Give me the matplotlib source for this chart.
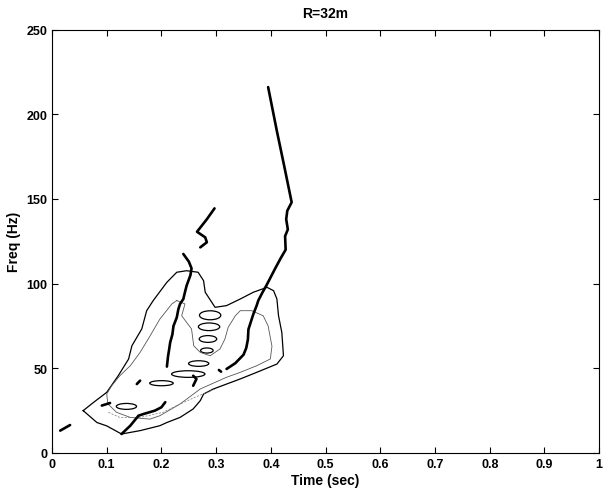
import numpy as np
import matplotlib.pyplot as plt
from matplotlib.patches import Ellipse

plt.rcParams['font.family'] = ['Liberation Sans', 'DejaVu Sans']

# ridge tracks (time sec, freq Hz)
ridge_right_t = [0.395, 0.411, 0.424, 0.438, 0.430, 0.428, 0.431, 0.426, 0.427, 0.418,
                 0.408, 0.392, 0.385, 0.377, 0.374, 0.368, 0.364, 0.359, 0.358, 0.355,
                 0.350, 0.335, 0.319]
ridge_right_f = [216, 190, 170, 148, 143, 138, 132, 128, 120, 115,
                 109, 99, 95, 90, 87, 82, 78, 73, 67, 62,
                 58, 53, 49.6]

ridge_left_t = [0.240, 0.250, 0.255, 0.253, 0.246, 0.243, 0.240, 0.234, 0.231, 0.228,
                0.222, 0.220, 0.216, 0.214, 0.212, 0.210]
ridge_left_f = [117.5, 113, 109, 105, 98.8, 95, 90.9, 88, 85, 80,
                75, 70, 65.3, 61, 57, 51]

ridge_top_t = [0.297, 0.283, 0.265, 0.280, 0.283, 0.271]
ridge_top_f = [144.4, 138, 130.6, 127.3, 124.4, 121.4]

ridge_low_t = [0.127, 0.143, 0.158, 0.167, 0.188, 0.200, 0.207]
ridge_low_f = [11.2, 16.1, 22, 23, 25, 27, 30]

# short broken ridge pieces
frag_t = [[0.015, 0.033], [0.091, 0.106], [0.155, 0.161], [0.258, 0.264, 0.258],
          [0.305, 0.309]]
frag_f = [[13.2, 16.5], [28, 29.5], [40.7, 42.7], [45.6, 43.7, 39.7],
          [49, 48]]

# outer contour
outer_t = [0.057, 0.076, 0.100, 0.121, 0.140, 0.146, 0.164, 0.173, 0.185, 0.210,
           0.228, 0.246, 0.267, 0.277, 0.280, 0.298, 0.319, 0.344, 0.368, 0.393,
           0.405, 0.411, 0.414, 0.420, 0.423, 0.411, 0.374, 0.344, 0.319, 0.295,
           0.277, 0.271, 0.258, 0.234, 0.210, 0.197, 0.161, 0.127, 0.100, 0.082, 0.057]
outer_f = [25, 29.9, 35.8, 45.6, 55.5, 63.3, 73.2, 84, 90, 100.8,
           106.7, 107.6, 106.7, 101.7, 94.9, 86, 87, 90.9, 94.9, 97.8,
           95.8, 90.9, 81, 71.2, 57.4, 52.5, 47.6, 43.7, 40.7, 37.8,
           34.8, 30.9, 26, 21, 18, 16.1, 13.2, 11.2, 16, 18, 25]

# inner contour
inner_t = [0.228, 0.243, 0.237, 0.255, 0.259, 0.271, 0.289, 0.307, 0.316, 0.322,
           0.335, 0.344, 0.365, 0.386, 0.395, 0.402, 0.399, 0.374, 0.344, 0.319,
           0.271, 0.234, 0.197, 0.179, 0.143, 0.118, 0.102, 0.100, 0.109, 0.124,
           0.143, 0.161, 0.179, 0.197, 0.219, 0.228]
inner_f = [90, 88, 81, 73.2, 63.3, 59.4, 57.4, 61.4, 67.3, 74.2,
           81, 84, 84, 81, 75, 63, 55.5, 51.5, 47.6, 44.7,
           37.8, 28.9, 22, 20, 21, 24, 29, 34.8, 39.7, 45.6,
           51.5, 59.4, 69, 79, 88, 90]

# faint third-level contour in the lower band
low_t = [0.103, 0.124, 0.161, 0.203, 0.228, 0.262, 0.300]
low_f = [24, 21, 21, 24, 28, 33, 38]

# small closed contours: centre t, centre f, width (sec), height (Hz)
ell_t = [0.289, 0.287, 0.285, 0.283, 0.268, 0.249, 0.200, 0.136]
ell_f = [81.3, 74.5, 67.3, 60.5, 52.8, 46.6, 41.2, 27.5]
ell_w = [0.039, 0.039, 0.032, 0.023, 0.037, 0.061, 0.043, 0.037]
ell_h = [5.3, 4.5, 4.0, 3.0, 3.3, 3.9, 3.0, 3.5]

fig = plt.figure(figsize=(6.12, 4.89), dpi=100)
ax = fig.add_axes([0.085, 0.0716, 0.894, 0.866])

ax.plot(outer_t, outer_f, color='black', lw=0.9)
ax.plot(inner_t, inner_f, color='#555555', lw=0.6)
ax.plot(low_t, low_f, color='#777777', lw=0.5, ls=(0, (3, 2)))
for t, f, w, h in zip(ell_t, ell_f, ell_w, ell_h):
    ax.add_patch(Ellipse((t, f), w, h, fill=False, edgecolor='black', lw=0.9))

for tt, ff in [(ridge_right_t, ridge_right_f), (ridge_left_t, ridge_left_f),
               (ridge_top_t, ridge_top_f), (ridge_low_t, ridge_low_f)]:
    ax.plot(tt, ff, color='black', lw=1.9, solid_capstyle='round')
for tt, ff in zip(frag_t, frag_f):
    ax.plot(tt, ff, color='black', lw=1.9, solid_capstyle='round')

ax.set_xlim(0, 1)
ax.set_ylim(0, 250)
ax.set_xticks(np.arange(0, 1.01, 0.1))
ax.set_xticklabels(['0', '0.1', '0.2', '0.3', '0.4', '0.5', '0.6', '0.7', '0.8', '0.9', '1'])
ax.set_yticks([0, 50, 100, 150, 200, 250])
ax.tick_params(direction='in', length=4, width=0.8, labelsize=9, top=True, right=True,
               labeltop=False, labelright=False)
for lab in ax.get_xticklabels() + ax.get_yticklabels():
    lab.set_fontweight('bold')
for s in ax.spines.values():
    s.set_linewidth(0.8)

ax.set_xlabel('Time (sec)', fontsize=10, fontweight='bold', labelpad=2)
ax.set_ylabel('Freq (Hz)', fontsize=10, fontweight='bold', labelpad=4)
ax.set_title('R=32m', fontsize=10, fontweight='bold', pad=9)

fig.savefig('out.png', dpi=100)
